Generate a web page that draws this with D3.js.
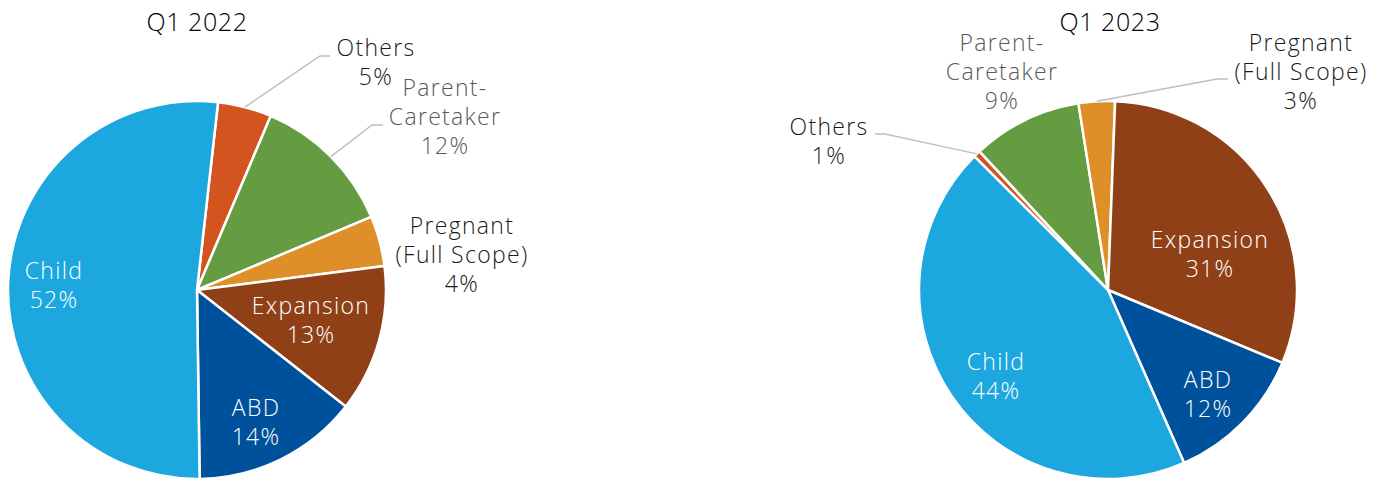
<!DOCTYPE html>
<html>
<head>
<meta charset="utf-8">
<script src="https://cdn.jsdelivr.net/npm/d3@7"></script>
<style>
  html, body { margin: 0; padding: 0; background: #fff; }
  svg text { font-family: "Open Sans", "Noto Sans", sans-serif; font-weight: 300; }
</style>
</head>
<body>
<svg id="chart" width="1374" height="479"></svg>
<script>
// ---- data ----
const categories = ["Others", "Parent-Caretaker", "Pregnant (Full Scope)", "Expansion", "ABD", "Child"];
const labelLines = [["Others"], ["Parent-", "Caretaker"], ["Pregnant", "(Full Scope)"], ["Expansion"], ["ABD"], ["Child"]];
const values2022 = [4.6, 12.3, 4.3, 12.6, 14.2, 52.0];
const values2023 = [0.6, 9.4, 3.1, 30.7, 12.1, 44.1];
const titles = ["Q1 2022", "Q1 2023"];

// ---- styles ----
const colors = ["#D3541F", "#669C41", "#DE8F27", "#8F4017", "#00519B", "#1CA7DF"];
const labelColors = ["#1a1a1a", "#595959", "#1a1a1a", "#ffffff", "#ffffff", "#ffffff"];

// layout per chart: center, start angle (deg), label anchors relative to center (first baseline), leader lines
const layouts = [
  {
    cx: 197, cy: 290, r: 189, start: 6.4,
    labels: [[179, -234], [248, -194], [265, -56], [114, 24], [59, 126], [-143, -11]],
    leaders: { 0: [[123, -234], [133, -234]], 1: [[175, -165], [186, -165]] }
  },
  {
    cx: 1108, cy: 290, r: 189, start: 315,
    labels: [[-279, -155], [-106, -239], [193, -239], [102, -42], [100, 98], [-112, 80]],
    leaders: { 0: [[-223, -156], [-233, -156]], 2: [[109, -211], [120, -211]] }
  }
];
const fontSize = 23, lineH = 29, letterSp = 1.3;

const svg = d3.select("#chart");
const arc = d3.arc();
const seriesList = [values2022, values2023];

seriesList.forEach((vals, ci) => {
  const L = layouts[ci];
  const a0 = L.start * Math.PI / 180;
  const pie = d3.pie().sort(null).startAngle(a0).endAngle(a0 + 2 * Math.PI);
  const arcs = pie(vals);
  const total = d3.sum(vals);
  const g = svg.append("g").attr("transform", `translate(${L.cx},${L.cy})`);

  arc.innerRadius(0).outerRadius(L.r);
  g.selectAll("path.slice").data(arcs).join("path")
    .attr("class", "slice")
    .attr("d", arc)
    .attr("fill", (d, i) => colors[i])
    .attr("stroke", "#fff")
    .attr("stroke-width", 2.5)
    .attr("stroke-linejoin", "round");

  // leader lines
  Object.entries(L.leaders).forEach(([k, pts]) => {
    const d = arcs[+k];
    const mid = (d.startAngle + d.endAngle) / 2;
    const p0 = [L.r * Math.sin(mid), -L.r * Math.cos(mid)];
    g.append("path")
      .attr("d", d3.line()([p0, ...pts]))
      .attr("fill", "none")
      .attr("stroke", "#bfbfbf")
      .attr("stroke-width", 1.5);
  });

  // labels
  arcs.forEach((d, i) => {
    const [lx, ly] = L.labels[i];
    const pct = d3.format(".0f")(d.value / total * 100) + "%";
    const lines = labelLines[i].concat([pct]);
    const t = g.append("text")
      .attr("text-anchor", "middle")
      .attr("font-size", fontSize)
      .attr("letter-spacing", letterSp)
      .attr("fill", labelColors[i]);
    lines.forEach((s, j) => {
      t.append("tspan").attr("x", lx).attr("y", ly + j * lineH).text(s);
    });
  });

  // title
  svg.append("text")
    .attr("x", L.cx + (ci === 0 ? 0 : 2))
    .attr("y", 31)
    .attr("text-anchor", "middle")
    .attr("font-size", 25)
    .attr("letter-spacing", 0.6)
    .attr("fill", "#000")
    .text(titles[ci]);
});
</script>
</body>
</html>
